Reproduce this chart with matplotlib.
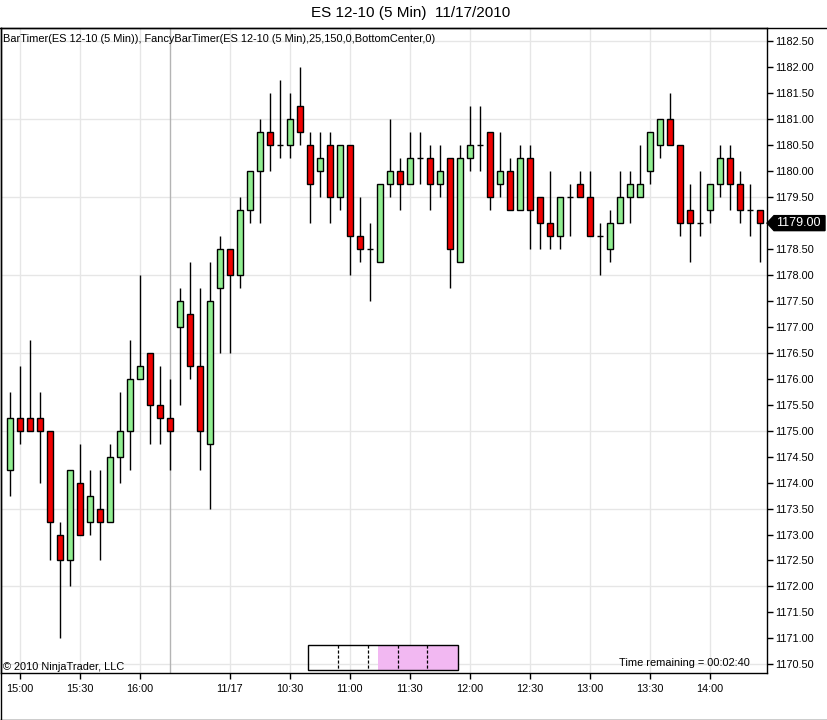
import matplotlib
matplotlib.use("Agg")
import matplotlib.pyplot as plt
from matplotlib.patches import Rectangle, Polygon
from matplotlib.lines import Line2D
import numpy as np

# ---------------- data ----------------
opens = [1174.25, 1175.25, 1175.25, 1175.25, 1175.0, 1173.0, 1172.5, 1174.0, 1173.25, 1173.5,
         1173.25, 1174.5, 1175.0, 1176.0, 1176.5, 1175.5, 1175.25, 1177.0, 1177.25, 1176.25,
         1174.75, 1177.75, 1178.5, 1178.0, 1179.25, 1180.0, 1180.75, 1180.5, 1180.5, 1181.25,
         1180.5, 1180.0, 1180.5, 1179.5, 1180.5, 1178.75, 1178.5, 1178.25, 1179.75, 1180.0,
         1179.75, 1180.25, 1180.25, 1179.75, 1180.25, 1178.25, 1180.25, 1180.5, 1180.75, 1179.75,
         1180.0, 1179.25, 1180.25, 1179.5, 1179.0, 1178.75, 1179.5, 1179.75, 1179.5, 1178.75,
         1178.5, 1179.0, 1179.5, 1179.5, 1180.0, 1180.5, 1181.0, 1180.5, 1179.25, 1179.0,
         1179.25, 1179.75, 1180.25, 1179.75, 1179.25, 1179.25]
highs = [1175.75, 1176.25, 1176.75, 1175.75, 1175.0, 1173.25, 1174.25, 1174.75, 1174.25, 1174.25,
         1174.75, 1175.75, 1176.75, 1178.0, 1176.5, 1176.25, 1176.0, 1177.75, 1178.25, 1177.75,
         1178.25, 1178.75, 1178.5, 1179.5, 1180.0, 1181.0, 1181.5, 1181.75, 1181.5, 1182.0,
         1180.75, 1180.75, 1180.75, 1180.5, 1180.5, 1179.5, 1179.0, 1179.75, 1181.0, 1180.25,
         1180.75, 1180.75, 1180.5, 1180.5, 1180.25, 1180.5, 1181.25, 1181.25, 1180.75, 1180.75,
         1180.25, 1180.5, 1180.5, 1179.5, 1180.0, 1179.5, 1179.75, 1180.0, 1180.0, 1179.0,
         1179.25, 1180.0, 1180.0, 1180.5, 1180.75, 1181.0, 1181.5, 1180.5, 1179.75, 1180.0,
         1179.75, 1180.5, 1180.5, 1180.0, 1179.75, 1179.25]
lows = [1173.75, 1174.75, 1175.0, 1174.0, 1172.5, 1171.0, 1172.0, 1173.0, 1173.0, 1172.5,
        1173.25, 1174.0, 1174.25, 1176.0, 1174.75, 1174.75, 1174.25, 1175.5, 1176.0, 1174.25,
        1173.5, 1176.5, 1176.5, 1177.75, 1179.0, 1179.0, 1180.0, 1180.25, 1180.25, 1180.5,
        1179.0, 1179.5, 1179.0, 1179.25, 1178.0, 1178.25, 1177.5, 1178.25, 1179.5, 1179.25,
        1179.75, 1179.75, 1179.25, 1179.5, 1177.75, 1178.25, 1180.0, 1180.0, 1179.25, 1179.5,
        1179.25, 1179.25, 1178.5, 1178.5, 1178.5, 1178.5, 1178.75, 1179.5, 1178.75, 1178.0,
        1178.25, 1179.0, 1179.0, 1179.5, 1179.75, 1180.25, 1180.5, 1178.75, 1178.25, 1178.75,
        1179.0, 1179.5, 1179.25, 1179.0, 1178.75, 1178.25]
closes = [1175.25, 1175.0, 1175.0, 1175.0, 1173.25, 1172.5, 1174.25, 1173.0, 1173.75, 1173.25,
          1174.5, 1175.0, 1176.0, 1176.25, 1175.5, 1175.25, 1175.0, 1177.5, 1176.25, 1175.0,
          1177.5, 1178.5, 1178.0, 1179.25, 1180.0, 1180.75, 1180.5, 1180.5, 1181.0, 1180.75,
          1179.75, 1180.25, 1179.5, 1180.5, 1178.75, 1178.5, 1178.5, 1179.75, 1180.0, 1179.75,
          1180.25, 1180.25, 1179.75, 1180.0, 1178.5, 1180.25, 1180.5, 1180.5, 1179.5, 1180.0,
          1179.25, 1180.25, 1179.25, 1179.0, 1178.75, 1179.5, 1179.5, 1179.5, 1178.75, 1178.75,
          1179.0, 1179.5, 1179.75, 1179.75, 1180.75, 1181.0, 1180.5, 1179.0, 1179.0, 1179.0,
          1179.75, 1180.25, 1179.75, 1179.25, 1179.25, 1179.0]

time_tick_idx = [1, 7, 13, 22, 28, 34, 40, 46, 52, 58, 64, 70]
time_tick_labels = ["15:00", "15:30", "16:00", "11/17", "10:30", "11:00", "11:30",
                    "12:00", "12:30", "13:00", "13:30", "14:00"]
session_break_idx = 16
price_ticks = [1170.5 + 0.5 * k for k in range(25)]
grid_prices = [1170.5 + 1.5 * k for k in range(9)]

title = "ES 12-10 (5 Min)  11/17/2010"
indicator_label = "BarTimer(ES 12-10 (5 Min)), FancyBarTimer(ES 12-10 (5 Min),25,150,0,BottomCenter,0)"
bar_seconds = 300
remaining_seconds = 160
time_remaining_text = "Time remaining = 00:02:40"
copyright_text = "\u00a9 2010 NinjaTrader, LLC"

# ---------------- figure ----------------
W, H = 827, 720
plt.rcParams['font.family'] = ['Liberation Sans', 'DejaVu Sans']
fig = plt.figure(figsize=(W / 100, H / 100), dpi=100)
fig.patch.set_facecolor('white')

def fx(px):
    return px / W

def fy(py):
    return 1 - py / H

ax_left, ax_right, ax_top, ax_bot = 1, 766.5, 27.5, 673.3
ax = fig.add_axes([fx(ax_left), fy(ax_bot), fx(ax_right) - fx(ax_left), fy(ax_top) - fy(ax_bot)])
ax.set_facecolor('white')

# mapping: bar i centre at pixel 9.7 + 10*i
x0_px, step_px = 9.7, 10.0
ax.set_xlim((ax_left - x0_px) / step_px, (ax_right - x0_px) / step_px)
# price: 1181.0 at y=119.33, 51.9 px per point
ppp = 51.9
ax.set_ylim(1181.0 - (ax_bot - 119.33) / ppp, 1181.0 + (119.33 - ax_top) / ppp)

# grid
for gp in grid_prices:
    ax.axhline(gp, color='#e6e6e6', lw=1, zorder=0)
for ti in time_tick_idx:
    ax.axvline(ti + 0.03, color='#e6e6e6', lw=1, zorder=0)
ax.axvline(session_break_idx + 0.03, color='#b4b4b4', lw=1, zorder=0)

green = '#90EE90'
red = '#F00000'
bw = 0.62
for i, (o, h, l, c) in enumerate(zip(opens, highs, lows, closes)):
    ax.vlines(i, l, h, color='black', lw=1, zorder=2)
    if c > o:
        ax.bar(i, c - o, bottom=o, width=bw, color=green, edgecolor='black', lw=1, zorder=3)
    elif c < o:
        ax.bar(i, o - c, bottom=c, width=bw, color=red, edgecolor='black', lw=1, zorder=3)
    else:
        ax.hlines(o, i - bw / 2, i + bw / 2, color='black', lw=1, zorder=3)

last = closes[-1]

# axes styling
for s in ['left', 'top', 'right', 'bottom']:
    ax.spines[s].set_color('black')
    ax.spines[s].set_linewidth(1)
ax.yaxis.tick_right()
ax.set_yticks(price_ticks)
# the tick label at the last price is covered by the price marker
ax.set_yticklabels(["" if abs(p - last) < 1e-9 else f"{p:.2f}" for p in price_ticks])
ax.set_xticks(time_tick_idx)
ax.set_xticklabels(time_tick_labels)
ax.tick_params(axis='y', direction='out', length=4, width=1, pad=2, labelsize=7.8, colors='black')
ax.tick_params(axis='x', direction='out', length=4, width=1, pad=4, labelsize=7.8, colors='black')

# title and texts
fig.text(fx(411), fy(13), title, ha='center', va='center', fontsize=11)
fig.text(fx(3), fy(39), indicator_label, ha='left', va='center', fontsize=7.9)
fig.text(fx(3), fy(667), copyright_text, ha='left', va='center', fontsize=7.9)
fig.text(fx(750), fy(663), time_remaining_text, ha='right', va='center', fontsize=7.9)

# outer frame lines
fig.add_artist(Line2D([fx(0), fx(W)], [fy(27.5), fy(27.5)], color='black', lw=1))
fig.add_artist(Line2D([fx(0.5), fx(0.5)], [fy(27.5), fy(719.5)], color='black', lw=1))
fig.add_artist(Line2D([fx(0), fx(W)], [fy(719.5), fy(719.5)], color='black', lw=1))

# bar timer box
bx0, bx1, by0, by1 = 307.5, 457.5, 644.5, 669.5
frac_rem = remaining_seconds / bar_seconds
fill_x0 = bx1 - (bx1 - bx0) * frac_rem
fig.add_artist(Rectangle((fx(fill_x0), fy(by1)), fx(bx1) - fx(fill_x0), fy(by0) - fy(by1),
                         transform=fig.transFigure, facecolor='#F2B8F2', edgecolor='none'))
fig.add_artist(Rectangle((fx(bx0), fy(by1)), fx(bx1) - fx(bx0), fy(by0) - fy(by1),
                         transform=fig.transFigure, facecolor='none', edgecolor='black', lw=1))
for k in range(1, 5):
    xx = bx0 + (bx1 - bx0) * k / 5
    fig.add_artist(Line2D([fx(xx), fx(xx)], [fy(by0), fy(by1)], color='black', lw=0.9,
                          linestyle=(0, (2.5, 1.5))))

# last price marker
fig.canvas.draw()
ypix_disp = ax.transData.transform((0, last))[1]
yc = fig.transFigure.inverted().transform((0, ypix_disp))[1]
hh = 7.5 / H
tip = fx(767)
bx_l = fx(774)
bx_r = fx(825)
poly = Polygon([(tip, yc), (bx_l, yc + hh), (bx_r, yc + hh), (bx_r, yc - hh), (bx_l, yc - hh)],
               closed=True, transform=fig.transFigure, facecolor='black', edgecolor='black')
fig.add_artist(poly)
fig.text((bx_l + bx_r) / 2 - 0.001, yc, f"{last:.2f}", ha='center', va='center',
         color='white', fontsize=9)

fig.savefig("out.png", dpi=100)
